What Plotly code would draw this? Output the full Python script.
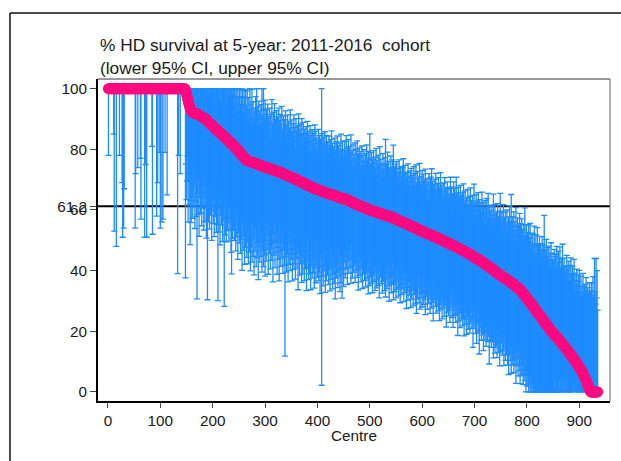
import numpy as np
import plotly.graph_objects as go

# 5-year HD survival (%) per centre, ranked from highest to lowest
survival = [
    100, 100, 100, 100, 100, 100, 100, 100, 100, 100, 100, 100, 100, 100, 100, 100, 100, 100, 100, 100, 100,
    100, 100, 100, 100, 100, 100, 100, 100, 100, 100, 100, 100, 100, 100, 100, 100, 100, 100, 100, 100, 100,
    100, 100, 100, 100, 100, 100, 100, 100, 100, 100, 100, 100, 100, 100, 100, 100, 100, 100, 100, 100, 100,
    100, 100, 100, 100, 100, 100, 100, 100, 100, 100, 100, 100, 100, 100, 100, 100, 100, 100, 100, 100, 100,
    100, 100, 100, 100, 100, 100, 100, 100, 100, 100, 100, 100, 100, 100, 100, 100, 100, 100, 100, 100, 100,
    100, 100, 100, 100, 100, 100, 100, 100, 100, 100, 100, 100, 100, 100, 100, 100, 100, 100, 100, 100, 100,
    100, 100, 100, 100, 100, 100, 100, 100, 100, 100, 100, 100, 100, 100, 100, 100, 100, 100, 100, 100, 100,
    99.6, 99.1, 98.4, 97.6, 96.8, 96.0, 95.3, 94.7, 94.1, 93.6, 93.2, 92.8, 92.5,
    92.3, 92.2, 92.1, 92.0, 92.0, 91.9, 91.9, 91.8, 91.8, 91.7,
    91.6, 91.5, 91.4, 91.3, 91.2, 91.1, 91.0, 90.9, 90.8, 90.7, 90.6, 90.5, 90.4, 90.3, 90.2, 90.1,
    89.9, 89.7, 89.6, 89.4, 89.2, 89.0, 88.9, 88.7, 88.5, 88.3, 88.2, 88.0, 87.8, 87.7, 87.5,
    87.3, 87.2, 87.0, 86.9, 86.7, 86.6, 86.4, 86.3, 86.1, 85.9, 85.8, 85.6, 85.5, 85.3,
    85.1, 85.0, 84.8, 84.6, 84.5, 84.3, 84.2, 84.0, 83.8, 83.7, 83.5, 83.3, 83.2, 83.0, 82.9,
    82.7, 82.5, 82.4, 82.2, 82.0, 81.9, 81.7, 81.6, 81.4, 81.3,
    81.1, 80.9, 80.7, 80.5, 80.3, 80.1, 79.9, 79.7, 79.5, 79.3, 79.1, 78.9, 78.7, 78.5, 78.3,
    78.1, 77.9, 77.7, 77.5, 77.3, 77.1, 76.9, 76.7, 76.6, 76.4,
    76.3, 76.3, 76.2, 76.1, 76.1, 76.0, 75.9, 75.9, 75.8, 75.8, 75.7, 75.7, 75.6, 75.6, 75.5,
    75.4, 75.4, 75.3, 75.2, 75.2, 75.1, 75.0, 74.9, 74.9, 74.8, 74.7, 74.7, 74.6, 74.5, 74.5,
    74.4, 74.3, 74.3, 74.2, 74.2,
    74.1, 74.1, 74.0, 73.9, 73.9, 73.8, 73.8, 73.7, 73.6, 73.6, 73.5, 73.4, 73.4, 73.3, 73.3,
    73.2, 73.1, 73.1, 73.0, 72.9, 72.9, 72.8, 72.8, 72.7, 72.7, 72.6, 72.6, 72.5, 72.5,
    72.4, 72.3, 72.2, 72.2, 72.1, 72.0, 71.9, 71.8, 71.8, 71.7, 71.6, 71.5, 71.4, 71.4, 71.3, 71.2,
    71.1, 71.0, 71.0, 70.9, 70.8, 70.7, 70.6, 70.6, 70.5, 70.4, 70.3, 70.2, 70.2, 70.1, 70.0,
    69.9, 69.8, 69.7, 69.7, 69.6, 69.5, 69.4, 69.3, 69.2, 69.1, 69.1, 69.0, 68.9, 68.8, 68.7, 68.6,
    68.6, 68.5, 68.4, 68.3, 68.2, 68.1, 68.0, 68.0, 67.9, 67.8, 67.7, 67.6, 67.5, 67.5, 67.4, 67.3,
    67.2, 67.2, 67.1, 67.0, 67.0, 66.9, 66.8, 66.8, 66.7, 66.6, 66.6, 66.5, 66.4, 66.4,
    66.3, 66.2, 66.2, 66.1, 66.0, 66.0, 65.9, 65.8, 65.8, 65.7, 65.6, 65.6, 65.5, 65.5,
    65.4, 65.4, 65.3, 65.3, 65.2, 65.1, 65.1, 65.0, 65.0, 64.9, 64.8, 64.8, 64.7, 64.7, 64.6, 64.5, 64.5, 64.4,
    64.4, 64.3, 64.2, 64.2, 64.1, 64.1, 64.0, 63.9, 63.9, 63.8, 63.8, 63.7, 63.7, 63.6, 63.6, 63.5, 63.5, 63.5,
    63.4, 63.3, 63.2, 63.1, 63.0, 63.0, 62.9, 62.8, 62.7, 62.6, 62.5, 62.5,
    62.4, 62.3, 62.2, 62.1, 62.0, 62.0, 61.9, 61.8, 61.7, 61.6, 61.6, 61.5,
    61.4, 61.4, 61.3, 61.2, 61.1, 61.1, 61.0, 60.9, 60.9, 60.8, 60.7, 60.6, 60.6, 60.5, 60.4, 60.4, 60.3,
    60.2, 60.1, 60.1, 60.0, 59.9, 59.9, 59.8, 59.7, 59.7, 59.6, 59.5, 59.5, 59.4, 59.4, 59.3, 59.3,
    59.2, 59.2, 59.1, 59.0, 59.0, 58.9, 58.9, 58.8, 58.7, 58.7, 58.6, 58.6, 58.5, 58.4,
    58.4, 58.3, 58.3, 58.2, 58.2, 58.1, 58.1, 58.0, 58.0, 57.9, 57.9, 57.8, 57.8,
    57.7, 57.6, 57.5, 57.5, 57.4, 57.3, 57.2, 57.1, 57.1, 57.0, 56.9, 56.8, 56.8, 56.7, 56.6,
    56.5, 56.4, 56.4, 56.3, 56.2, 56.1, 56.0, 56.0, 55.9, 55.8, 55.7, 55.7, 55.6, 55.5, 55.5,
    55.4, 55.3, 55.2, 55.1, 55.0, 54.9, 54.9, 54.8, 54.7, 54.6, 54.5, 54.4, 54.4,
    54.3, 54.2, 54.1, 54.0, 53.9, 53.9, 53.8, 53.7, 53.6, 53.5, 53.4, 53.4, 53.3,
    53.2, 53.1, 53.1, 53.0, 52.9, 52.8, 52.8, 52.7, 52.6, 52.5, 52.5, 52.4, 52.3, 52.2, 52.2,
    52.1, 52.0, 51.9, 51.9, 51.8, 51.7, 51.6, 51.6, 51.5, 51.4, 51.4, 51.3, 51.2, 51.2,
    51.1, 51.0, 50.9, 50.8, 50.8, 50.7, 50.6, 50.5, 50.4, 50.3, 50.3, 50.2, 50.1, 50.0,
    49.9, 49.8, 49.8, 49.7, 49.6, 49.5, 49.4, 49.4, 49.3, 49.2, 49.1, 49.0, 49.0, 48.9,
    48.8, 48.7, 48.6, 48.5, 48.4, 48.3, 48.3, 48.2, 48.1, 48.0, 47.9, 47.8, 47.7, 47.6,
    47.6, 47.5, 47.4, 47.3, 47.2, 47.1, 47.0, 47.0, 46.9, 46.8, 46.7, 46.6, 46.5,
    46.4, 46.3, 46.2, 46.1, 46.0, 45.9, 45.8, 45.7, 45.6, 45.5, 45.4, 45.3, 45.2, 45.1, 45.0,
    44.8, 44.7, 44.6, 44.5, 44.4, 44.3, 44.2, 44.1, 44.0, 43.9, 43.8, 43.7, 43.6, 43.5, 43.4,
    43.3, 43.2, 43.0, 42.9, 42.8, 42.7, 42.6, 42.4, 42.3, 42.2,
    42.1, 42.0, 41.8, 41.7, 41.6, 41.5, 41.4, 41.2, 41.1, 41.0,
    40.9, 40.7, 40.6, 40.5, 40.3, 40.2, 40.1, 39.9, 39.8, 39.7,
    39.5, 39.4, 39.3, 39.1, 39.0, 38.9, 38.7, 38.6, 38.5,
    38.4, 38.3, 38.2, 38.1, 37.9, 37.8, 37.7, 37.6, 37.5, 37.4, 37.3,
    37.1, 37.0, 36.9, 36.8, 36.7, 36.5, 36.4, 36.3, 36.2, 36.1,
    35.9, 35.8, 35.7, 35.5, 35.4, 35.2, 35.1, 35.0, 34.8,
    34.7, 34.6, 34.4, 34.3, 34.1, 34.0, 33.9, 33.7,
    33.5, 33.3, 33.1, 32.8, 32.6, 32.4, 32.2, 32.0, 31.7,
    31.5, 31.3, 31.1, 30.9, 30.6, 30.4, 30.2, 30.0, 29.8,
    29.6, 29.3, 29.1, 28.9, 28.6, 28.4, 28.1, 27.9, 27.7, 27.4,
    27.2, 26.9, 26.7, 26.5, 26.2, 26.0, 25.8, 25.5, 25.3, 25.1,
    24.9, 24.6, 24.4, 24.2, 23.9, 23.7, 23.4, 23.2, 23.0, 22.7, 22.5, 22.3, 22.0, 21.8, 21.6,
    21.4, 21.1, 20.9, 20.7, 20.4, 20.2, 20.0, 19.8, 19.6,
    19.4, 19.2, 19.0, 18.8, 18.6, 18.4, 18.2, 18.0,
    17.9, 17.7, 17.4, 17.2, 17.0, 16.8, 16.6, 16.4, 16.1, 15.9, 15.7, 15.5, 15.3,
    15.1, 14.9, 14.6, 14.4, 14.2, 14.0, 13.8, 13.6, 13.3, 13.1, 12.9, 12.7,
    12.5, 12.2, 12.0, 11.7, 11.5, 11.2, 11.0, 10.7, 10.5, 10.2, 10.0, 9.7, 9.5,
    9.2, 8.9, 8.6, 8.4, 8.1, 7.8, 7.5, 7.2, 6.9, 6.7, 6.4, 6.1,
    5.7, 5.3, 4.9, 4.5, 4.1, 3.7, 3.3, 2.9, 2.4, 1.9, 1.4, 1.0, 0.6, 0.3,
    0, 0, 0, 0, 0, 0, 0, 0, 0, 0, 0, 0, 0, 0,
]

# distance from the estimate down to the lower 95% CI
ci_below = [
    22, 0, 0, 0, 0, 0, 0, 0, 0, 0, 15, 47, 0, 0, 0, 52, 0, 0, 0, 0, 0,
    22, 0, 0, 0, 0, 31, 49, 0, 46, 33, 0, 0, 0, 0, 0, 0, 0, 0, 0, 0, 0,
    0, 0, 0, 0, 0, 0, 0, 0, 0, 46, 28, 0, 0, 0, 26, 0, 0, 0, 0, 23, 43,
    0, 0, 0, 0, 0, 0, 49, 0, 25, 0, 49, 0, 0, 0, 0, 0, 0, 0, 0, 0, 19,
    48, 0, 0, 0, 0, 0, 0, 0, 42, 0, 31, 0, 0, 21, 0, 46, 0, 0, 44, 0, 43,
    0, 0, 0, 21, 0, 0, 0, 35, 0, 0, 0, 0, 0, 0, 0, 0, 0, 0, 0, 0, 0,
    0, 0, 0, 0, 0, 0, 61, 0, 22, 0, 0, 28, 0, 0, 0, 0, 0, 0, 0, 0, 0,
    62, 24, 35, 28, 19, 40, 26, 33, 22, 45, 30, 37, 24,
    28, 35, 19, 31, 24, 38, 22, 29, 34, 61,
    26, 33, 21, 40, 27, 18, 32, 25, 36, 23,
    30, 20, 37, 26, 34, 22, 29, 39, 24, 59,
    27, 33, 19, 35, 25, 30, 21, 38, 28, 24,
    32, 20, 36, 26, 29, 23, 34, 18, 31, 56,
    25, 33, 22, 37, 27, 19, 30, 24, 35, 21,
    28, 56, 23, 32, 20, 34, 26, 30, 18, 27,
    33, 22, 29, 25, 36, 43, 21, 31, 24, 28,
    26, 31, 19, 34, 24, 29, 21, 36, 27, 23,
    30, 18, 33, 25, 28, 38, 22, 31, 26, 20,
    35, 24, 29, 19, 32, 27, 23, 34, 21, 30,
    26, 36, 22, 28, 33, 20, 31, 25, 37, 24,
    29, 21, 34, 26, 31, 23, 38, 27, 19, 32,
    25, 30, 22, 35, 28, 24, 33, 20, 29, 36,
    24, 31, 18, 27, 22, 35, 20, 28, 25, 33,
    19, 26, 30, 21, 37, 24, 28, 17, 32, 23,
    27, 20, 34, 25, 29, 22, 36, 18, 26, 31,
    23, 28, 19, 33, 25, 21, 30, 60, 24, 27,
    32, 20, 26, 35, 22, 29, 18, 31, 24, 27,
    21, 34, 25, 19, 30, 23, 28, 33, 20, 26,
    29, 22, 36, 24, 18, 31, 25, 27, 21, 33,
    24, 30, 19, 26, 32, 22, 28, 20, 35, 25,
    18, 27, 31, 23, 29, 21, 34, 26, 19, 30,
    24, 28, 22, 33, 20, 26, 31, 17, 25, 29,
    23, 30, 19, 27, 34, 21, 25, 64, 28, 22,
    31, 18, 26, 24, 33, 20, 29, 23, 27, 19,
    30, 22, 25, 32, 18, 28, 24, 21, 31, 26,
    20, 29, 23, 34, 19, 27, 25, 22, 30, 17,
    26, 24, 31, 21, 28, 19, 33, 23, 25, 29,
    21, 17, 26, 19, 23, 15, 28, 20, 18, 24,
    16, 22, 19, 27, 14, 21, 25, 18, 23, 17,
    20, 26, 15, 22, 19, 24, 17, 28, 21, 16,
    23, 18, 25, 20, 15, 27, 19, 22, 17, 24,
    19, 26, 16, 21, 23, 18, 28, 20, 15, 25,
    22, 17, 24, 19, 27, 16, 21, 23, 18, 26,
    20, 15, 25, 22, 18, 24, 17, 28, 19, 21,
    16, 23, 20, 26, 18, 22, 15, 25, 19, 27,
    21, 17, 24, 19, 23, 16, 28, 20, 22, 18,
    25, 19, 15, 22, 27, 18, 21, 24, 17, 26,
    20, 23, 16, 19, 25, 22, 18, 27, 21, 15,
    24, 19, 22, 17, 26, 20, 23, 16, 21, 28,
    18, 22, 25, 19, 15, 23, 20, 27, 17, 24,
    21, 16, 26, 19, 22, 18, 25, 20, 28, 17,
    23, 19, 15, 24, 21, 26, 18, 22, 20, 25,
    20, 16, 24, 18, 22, 27, 17, 21, 19, 25,
    15, 23, 20, 18, 26, 21, 17, 24, 19, 22,
    28, 18, 21, 16, 23, 19, 25, 20, 17, 22,
    24, 19, 27, 17, 21, 23, 18, 26, 20, 16,
    22, 25, 19, 21, 17, 28, 20, 23, 18, 24,
    19, 22, 26, 18, 21, 16, 24, 20, 27, 19,
    23, 17, 21, 25, 19, 22, 18, 29, 20, 24,
    18, 26, 21, 17, 23, 20, 25, 19, 22, 28,
    20, 24, 18, 22, 27, 19, 21, 25, 17, 23,
    26, 19, 22, 18, 24, 21, 30, 20, 23, 17,
    22, 25, 19, 28, 21, 18, 24, 20, 31, 23,
    19, 22, 26, 20, 24, 18, 29, 21, 23, 25,
    20, 27, 22, 18, 25, 21, 23, 32, 19, 24,
    22, 26, 19, 24, 21, 29, 23, 20, 27, 25,
    21, 24, 28, 19, 23, 26, 22, 30, 20, 25,
    22, 18, 26, 20, 24, 29, 19, 23, 27, 21,
    25, 20, 28, 22, 31, 19, 24, 26, 21, 30,
    23, 27, 20, 25, 29, 22, 26, 24, 32, 21,
    26, 23, 29, 20, 27, 25, 31, 22, 28, 24,
    27, 23, 30, 25, 21, 28, 26, 32, 24, 29,
    25, 28, 31, 23, 27, 30, 24, 29, 26, 31,
    27, 25, 30, 28, 26, 29, 27, 28, 25, 28,
    26, 27, 25, 27, 26, 25, 24, 25, 23, 25,
    24, 22, 24, 23, 24, 22, 23, 22, 23, 22,
    21, 22, 21, 20, 21, 20, 20, 19, 20, 19,
    20, 19, 15, 19, 19, 18, 14, 18, 18, 17,
    17, 13, 17, 16, 16, 12, 16, 15, 15, 15,
    15, 11, 15, 14, 14, 10, 14, 13, 13, 13,
    13, 13, 12, 9, 12, 11, 11, 11, 8, 10,
    10, 10, 10, 7, 9, 9, 9, 8, 8, 8,
    8, 7, 7, 7, 6, 6, 6, 5, 5, 5,
    4, 4, 3, 3, 3, 2, 2, 1, 1, 0,
    0, 0, 0, 0, 0, 0, 0, 0, 0, 0,
    0, 0, 0, 0, 0,
]

# distance from the estimate up to the upper 95% CI
ci_above = [
    0, 0, 0, 0, 0, 0, 0, 0, 0, 0, 0, 0, 0, 0, 0, 0, 0, 0, 0, 0, 0,
    0, 0, 0, 0, 0, 0, 0, 0, 0, 0, 0, 0, 0, 0, 0, 0, 0, 0, 0, 0, 0,
    0, 0, 0, 0, 0, 0, 0, 0, 0, 0, 0, 0, 0, 0, 0, 0, 0, 0, 0, 0, 0,
    0, 0, 0, 0, 0, 0, 0, 0, 0, 0, 0, 0, 0, 0, 0, 0, 0, 0, 0, 0, 0,
    0, 0, 0, 0, 0, 0, 0, 0, 0, 0, 0, 0, 0, 0, 0, 0, 0, 0, 0, 0, 0,
    0, 0, 0, 0, 0, 0, 0, 0, 0, 0, 0, 0, 0, 0, 0, 0, 0, 0, 0, 0, 0,
    0, 0, 0, 0, 0, 0, 0, 0, 0, 0, 0, 0, 0, 0, 0, 0, 0, 0, 0, 0, 0,
    1, 1, 2, 3, 4, 4, 5, 6, 6, 7, 7, 8, 8,
    8, 8, 6, 8, 8, 7, 8, 5, 9, 9,
    9, 7, 9, 9, 6, 9, 9, 8, 10, 10,
    10, 10, 8, 10, 10, 7, 11, 11, 9, 11,
    11, 9, 11, 12, 12, 10, 12, 12, 9, 13,
    13, 11, 13, 13, 10, 14, 14, 12, 14, 14,
    15, 12, 15, 15, 11, 15, 15, 13, 16, 16,
    16, 16, 13, 16, 16, 12, 17, 17, 14, 17,
    18, 15, 18, 18, 13, 18, 18, 16, 19, 19,
    19, 14, 19, 12, 17, 20, 15, 20, 11, 18,
    21, 13, 16, 21, 19, 12, 22, 17, 14, 22,
    20, 15, 23, 12, 18, 23, 16, 13, 21, 17,
    24, 14, 19, 16, 24, 12, 20, 15, 18, 13,
    17, 22, 14, 25, 16, 19, 12, 21, 15, 18,
    13, 20, 16, 26, 14, 17, 26, 19, 15, 22,
    16, 12, 19, 14, 21, 11, 17, 15, 20, 13,
    18, 10, 23, 15, 12, 19, 16, 22, 13, 17,
    14, 20, 11, 18, 15, 21, 13, 17, 19, 12,
    16, 22, 14, 10, 19, 15, 18, 13, 21, 16,
    12, 17, 20, 14, 18, 11, 16, 22, 15, 13,
    19, 15, 12, 18, 21, 14, 17, 10, 20, 16,
    13, 18, 15, 22, 12, 17, 19, 14, 16, 21,
    11, 16, 20, 13, 18, 15, 12, 19, 17, 14,
    21, 13, 16, 18, 11, 20, 15, 17, 12, 19,
    14, 18, 16, 12, 21, 15, 19, 13, 17, 11,
    16, 20, 14, 18, 12, 17, 15, 34, 19, 13,
    15, 18, 12, 20, 16, 14, 19, 11, 17, 15,
    13, 19, 16, 12, 18, 15, 21, 14, 17, 11,
    16, 13, 19, 15, 12, 18, 14, 20, 13, 17,
    15, 12, 18, 14, 21, 16, 13, 19, 15, 12,
    14, 19, 11, 16, 21, 13, 17, 12, 20, 15,
    18, 12, 16, 22, 13, 17, 11, 19, 14, 16,
    12, 20, 15, 18, 13, 21, 14, 17, 11, 19,
    16, 13, 18, 12, 20, 15, 17, 11, 19, 14,
    13, 18, 15, 21, 12, 16, 19, 14, 17, 25,
    15, 12, 19, 14, 17, 11, 20, 16, 13, 18,
    14, 21, 12, 17, 15, 19, 13, 16, 22, 11,
    18, 14, 16, 12, 20, 15, 17, 13, 19, 25,
    12, 17, 15, 21, 13, 18, 11, 16, 14, 20,
    16, 13, 19, 15, 24, 12, 17, 14, 18, 11,
    19, 15, 13, 17, 12, 20, 16, 14, 18, 13,
    15, 18, 12, 21, 14, 16, 19, 13, 17, 15,
    12, 17, 20, 14, 16, 13, 18, 11, 19, 15,
    17, 13, 16, 20, 12, 18, 14, 21, 15, 13,
    19, 14, 17, 12, 22, 15, 13, 18, 16, 20,
    15, 19, 12, 17, 14, 21, 13, 16, 18, 11,
    17, 14, 20, 12, 16, 19, 15, 22, 13, 18,
    14, 17, 11, 19, 15, 21, 13, 16, 18, 12,
    20, 15, 17, 13, 22, 14, 18, 16, 12, 19,
    15, 13, 21, 17, 14, 18, 12, 20, 16, 15,
    18, 14, 16, 22, 13, 19, 15, 17, 12, 21,
    16, 19, 13, 17, 23, 14, 18, 15, 20, 12,
    17, 14, 21, 16, 18, 13, 19, 15, 22, 16,
    14, 20, 17, 12, 18, 15, 21, 16, 13, 19,
    16, 22, 14, 18, 15, 20, 13, 17, 24, 15,
    18, 14, 21, 16, 19, 13, 22, 17, 15, 20,
    16, 19, 14, 23, 17, 15, 20, 18, 13, 21,
    17, 15, 22, 19, 14, 24, 16, 18, 20, 15,
    19, 16, 21, 14, 18, 25, 17, 15, 22, 19,
    16, 20, 18, 23, 15, 19, 17, 21, 27, 18,
    17, 21, 14, 19, 24, 16, 20, 13, 22, 18,
    15, 23, 19, 17, 21, 14, 25, 18, 20, 29,
    16, 22, 19, 14, 24, 18, 21, 17, 26, 15,
    20, 23, 17, 21, 15, 25, 19, 22, 18, 24,
    17, 21, 16, 23, 19, 29, 20, 15, 24, 18,
    22, 19, 25, 17, 21, 26, 18, 23, 20, 16,
    24, 20, 18, 27, 21, 17, 25, 19, 22, 28,
    19, 23, 21, 26, 18, 24, 22, 20, 27, 23,
    21, 25, 35, 20, 24, 22, 28, 19, 23, 26,
    22, 27, 20, 25, 23, 29, 21, 26, 24, 22,
    24, 28, 21, 26, 27, 23, 30, 22, 25, 29,
    23, 27, 31, 24, 22, 28, 25, 33, 23, 26,
    29, 24, 27, 22, 26, 31, 25, 28, 23, 30,
    26, 29, 24, 32, 27, 25, 30, 23, 28, 33,
    25, 29, 23, 27, 31, 26, 24, 30, 28, 32,
    27, 24, 31, 26, 28, 25, 33, 27, 29, 30,
    31, 28, 34, 30, 29, 32, 28, 31, 35, 30,
    33, 29, 36, 31, 28, 38, 32, 30, 44, 33,
    29, 44, 31, 40, 27,
]

national_rate = 61.2
assert len(survival) == len(ci_below) == len(ci_above)

surv = np.array(survival, dtype=float)
ci_lower = np.maximum(surv - np.array(ci_below), 0)
ci_upper = np.minimum(surv + np.array(ci_above), 100)
rank = np.arange(1, len(surv) + 1)

PINK = "#FF0A80"
BLUE = "#1E8CFF"
FONT = "Liberation Sans, Arial, Helvetica, sans-serif"

fig = go.Figure()

# confidence intervals
fig.add_trace(go.Scatter(
    x=rank, y=surv, mode="markers",
    marker=dict(size=1, opacity=0),
    error_y=dict(type="data", symmetric=False,
                 array=ci_upper - surv, arrayminus=surv - ci_lower,
                 color=BLUE, thickness=1.3, width=3),
    hoverinfo="skip", showlegend=False,
))

# point estimates
fig.add_trace(go.Scatter(
    x=rank, y=surv, mode="markers",
    marker=dict(size=11, color=PINK, line=dict(width=0)),
    showlegend=False,
))

ytick_vals = [0, 20, 40, 60, national_rate, 80, 100]

fig.update_layout(
    width=621, height=461,
    margin=dict(l=98, r=11, t=79, b=60),
    paper_bgcolor="white", plot_bgcolor="white",
    font=dict(family=FONT, size=15.3, color="#1a1a1a"),
    xaxis=dict(
        range=[-19, 958.6], tickvals=list(range(0, 1000, 100)),
        showgrid=False, zeroline=False,
        showline=True, linecolor="black", linewidth=2,
        ticks="outside", ticklen=5, tickwidth=1, tickcolor="#444",
        tickfont=dict(size=15.3),
    ),
    yaxis=dict(
        range=[-3, 103.2], tickvals=ytick_vals,
        ticktext=[f"{v:g}" for v in ytick_vals],
        showgrid=False, zeroline=False,
        showline=True, linecolor="black", linewidth=2,
        ticks="outside", ticklen=6, tickwidth=1, tickcolor="#444",
        tickfont=dict(size=15.3),
    ),
    shapes=[
        dict(type="line", xref="paper", yref="y", x0=0, x1=1,
             y0=national_rate, y1=national_rate,
             line=dict(color="black", width=2), layer="below"),
        dict(type="line", xref="paper", yref="paper", x0=0, x1=1, y0=1, y1=1,
             line=dict(color="#333", width=1)),
        dict(type="line", xref="paper", yref="paper", x0=1, x1=1, y0=0, y1=1,
             line=dict(color="#666", width=1)),
        # outer graph frame
        dict(type="line", xref="paper", yref="paper",
             x0=-0.1719, x1=-0.1719, y0=1.205, y1=-0.3,
             line=dict(color="#111", width=1.5)),
        dict(type="line", xref="paper", yref="paper",
             x0=-0.1719, x1=1.1, y0=1.205, y1=1.205,
             line=dict(color="#111", width=1.5)),
    ],
    annotations=[
        dict(text="% HD survival at 5-year: 2011-2016 \u00a0cohort",
             xref="paper", yref="paper", x=0.0, y=1.1056,
             xanchor="left", yanchor="middle", showarrow=False,
             font=dict(size=17.3)),
        dict(text="(lower 95% CI, upper 95% CI)",
             xref="paper", yref="paper", x=0.0, y=1.0342,
             xanchor="left", yanchor="middle", showarrow=False,
             font=dict(size=17.3)),
        dict(text="Centre", xref="paper", yref="paper", x=0.5, y=-0.107,
             xanchor="center", yanchor="middle", showarrow=False,
             font=dict(size=15.3)),
    ],
)

fig.write_html("out.html")
